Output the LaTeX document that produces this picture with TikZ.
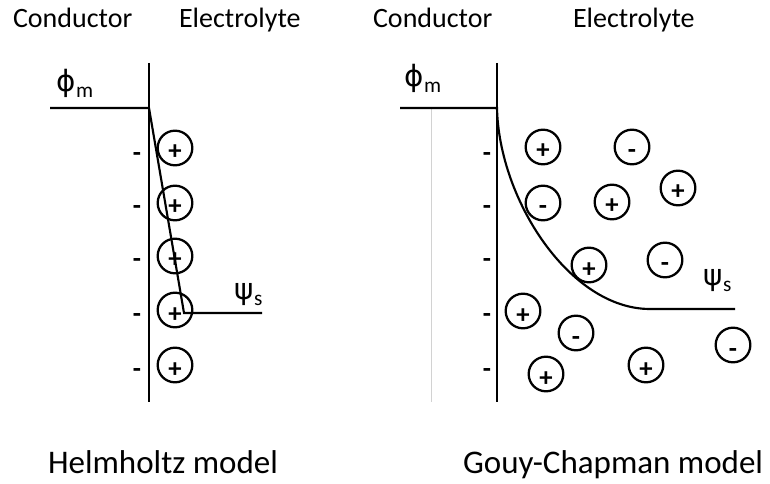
\documentclass[tikz,border=0pt]{standalone}
\usepackage{fontspec}
\setmainfont{Carlito}
\newfontfamily\grkfont{DejaVu Sans}
\newcommand\potsym[2]{{\grkfont\fontsize{22}{22}\selectfont #1}\kern0.5pt\raisebox{-4pt}{\fontsize{16}{16}\selectfont #2}}

\begin{document}
\begin{tikzpicture}[x=0.75pt, y=-0.75pt, line width=1.6pt, font=\fontsize{21}{25}\selectfont,
  ion/.style={draw, circle, line width=1.7pt, minimum size=26pt, inner sep=0pt,
    text height=18pt, text depth=0pt, font=\fontsize{20}{20}\selectfont\bfseries},
  charge/.style={inner sep=0pt, text height=18pt, text depth=0pt,
    font=\fontsize{20}{20}\selectfont\bfseries},
  title/.style={anchor=base west, inner sep=0pt},
  pot/.style={anchor=base west, inner sep=0pt},
  model/.style={anchor=base west, inner sep=0pt, font=\fontsize{24.75}{30}\selectfont}]
  \useasboundingbox (0,0) rectangle (770,484);
  % --- headings ---
  \node[title] (condL) at (12,28) {Conductor};
  \node[title] (elecL) at (178,28) {Electrolyte};
  \node[title] (condR) at (372,28) {Conductor};
  \node[title] (elecR) at (572,28) {Electrolyte};
  % --- walls ---
  \coordinate (topL) at (149,63);
  \coordinate (botL) at (149,402);
  \coordinate (topR) at (497,63);
  \coordinate (botR) at (497,402);
  \coordinate (faintTop) at (431,108);
  \coordinate (faintBot) at (431,402);
  \draw (topL) -- (botL);
  \draw (topR) -- (botR);
  \draw[gray!35, line width=0.6pt] (faintTop) -- (faintBot);
  % --- surface charges ---
  \foreach \y in {150,203,256,310,365}
    {\node[charge] (dashL\y) at (137,\y) {-};
     \node[charge] (dashR\y) at (487,\y) {-};}
  % --- Helmholtz layer ---
  \foreach \y [count=\i] in {148,203,256,310,365}
    \node[ion] (helm\i) at (175,\y) {+};
  % --- diffuse layer ---
  \foreach \x/\y/\s [count=\i] in {
      543/147/+, 632/147/-, 543/203/-, 612/202/+,
      678/188/+, 589/265/+, 665/260/-, 523/311/+,
      576/333/-, 733/345/-, 546/374/+, 646/365/+}
    \node[ion] (gouy\i) at (\x,\y) {\s};
  % --- potential profiles ---
  \coordinate (mL) at (50,108);
  \coordinate (wallL) at (149,108);
  \coordinate (ohpL) at (184,313);
  \coordinate (sL) at (262,313);
  \draw (mL) -- (wallL) -- (ohpL) -- (sL);
  \coordinate (mR) at (400,108);
  \coordinate (wallR) at (497,108);
  \coordinate (bendR) at (650,309);
  \coordinate (sR) at (735,309);
  \draw (mR) -- (wallR) .. controls (499,200) and (570,309) .. (bendR) -- (sR);
  \node[pot] (phiL) at (55,92) {\potsym{ϕ}{m}};
  \node[pot] (psiL) at (233,300) {\potsym{ψ}{s}};
  \node[pot] (phiR) at (403,87) {\potsym{ϕ}{m}};
  \node[pot] (psiR) at (702,286) {\potsym{ψ}{s}};
  % --- captions ---
  \node[model] (helmCap) at (47,473) {Helmholtz model};
  \node[model] (gouyCap) at (462,473) {Gouy-Chapman model};
\end{tikzpicture}
\end{document}
